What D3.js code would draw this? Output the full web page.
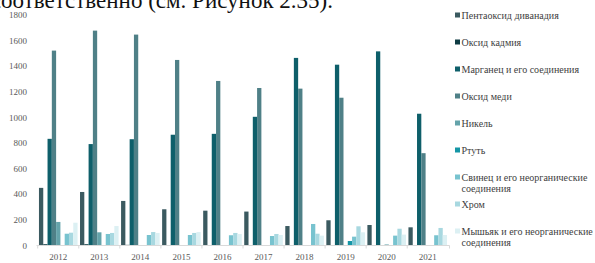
<!doctype html>
<html>
<head>
<meta charset="utf-8">
<style>
  * { margin: 0; padding: 0; }
  body { background: #fff; width: 595px; height: 263px; overflow: hidden; }
  svg text { font-family: "Liberation Serif", "DejaVu Serif", serif; }
</style>
</head>
<body>
<div id="main"></div>
<script src="https://cdnjs.cloudflare.com/ajax/libs/d3/7.8.5/d3.min.js"></script>
<script>
var years = ['2012','2013','2014','2015','2016','2017','2018','2019','2020','2021']
var seriesNames = ['Пентаоксид диванадия', 'Оксид кадмия', 'Марганец и его соединения', 'Оксид меди', 'Никель', 'Ртуть',
  'Свинец и его неорганические соединения', 'Хром', 'Мышьяк и его неорганические соединения']
var colors = ['#3b5a60', '#0e3b43', '#0e5f6a', '#4f8087', '#64a3aa', '#1496a6', '#78c3cf', '#a8d8e0', '#dcf0f3']

// one array per series, 2012..2021
var pentoxide = [450, 418, 348, 283, 272, 265, 152, 197, 160, 142]
var cadmium   = [10, 10, 5, 3, 3, 3, 3, 3, 3, 3]
var manganese = [833, 792, 830, 865, 872, 1005, 1465, 1412, 1516, 1029]
var copper    = [1522, 1678, 1647, 1449, 1285, 1230, 1225, 1154, 0, 721]
var nickel    = [184, 103, 0, 0, 0, 0, 0, 0, 8, 0]
var mercury   = [0, 0, 0, 0, 0, 0, 0, 35, 0, 0]
var lead      = [92, 90, 82, 82, 80, 74, 168, 69, 77, 80]
var chrome    = [100, 98, 105, 98, 98, 90, 92, 150, 131, 137]
var arsenic   = [178, 152, 98, 105, 90, 82, 77, 103, 85, 82]
var allSeries = [pentoxide, cadmium, manganese, copper, nickel, mercury, lead, chrome, arsenic]
var yTicks = [0, 200, 400, 600, 800, 1000, 1200, 1400, 1600, 1800]

var width = 595, height = 263
var svg = d3.select('#main').append('svg').attr('width', width).attr('height', height)

// document text cut off above the chart
svg.append('text').attr('x', 333).attr('y', 7.5)
  .attr('text-anchor', 'end')
  .style('font-size', '23px').attr('fill', '#111')
  .text('соответственно (см. Рисунок 2.35).')

var x0 = d3.scaleBand().domain(years).range([36.5, 449.5]).padding(0.06)
var x1 = d3.scaleBand().domain(d3.range(seriesNames.length)).range([0, x0.bandwidth()])
var y = d3.scaleLinear().domain([0, 1800]).range([245.5, 15])

// y labels (no axis line)
svg.selectAll('.ylab').data(yTicks).enter().append('text')
  .attr('class', 'ylab')
  .attr('x', 27).attr('y', function(d){ return y(d) })
  .attr('dy', '0.35em').attr('text-anchor', 'end')
  .style('font-size', '9px').attr('fill', '#595959')
  .text(function(d){ return d })

var groups = svg.selectAll('.year').data(years).enter().append('g')
  .attr('class', 'year')
  .attr('transform', function(d){ return 'translate(' + x0(d) + ',0)' })

groups.selectAll('rect').data(function(d, i){
    return allSeries.map(function(s, k){ return {k: k, v: s[i]} })
  }).enter().append('rect')
  .attr('x', function(d){ return x1(d.k) })
  .attr('width', x1.bandwidth())
  .attr('y', function(d){ return y(d.v) })
  .attr('height', function(d){ return y(0) - y(d.v) })
  .attr('fill', function(d){ return colors[d.k] })

// x axis
var xAxis = svg.append('g').attr('transform', 'translate(0,' + y(0) + ')')
xAxis.append('line').attr('x1', 36.5).attr('x2', 449.5).attr('stroke', '#d9d9d9').attr('stroke-width', 1)
var bounds = years.map(function(d){ return x0(d) - x0.step() * x0.paddingInner() / 2 })
bounds.push(449.5)
xAxis.selectAll('.tk').data(bounds).enter().append('line')
  .attr('x1', function(d){ return d }).attr('x2', function(d){ return d })
  .attr('y1', 0).attr('y2', 3).attr('stroke', '#d9d9d9')
xAxis.selectAll('.xlab').data(years).enter().append('text')
  .attr('x', function(d){ return x0(d) + x0.bandwidth() / 2 })
  .attr('y', 14).attr('text-anchor', 'middle')
  .style('font-size', '9px').attr('fill', '#595959')
  .text(function(d){ return d })

// legend
var legend = svg.append('g').attr('transform', 'translate(455,0)')
var items = legend.selectAll('.lg').data(seriesNames).enter().append('g')
  .attr('transform', function(d, i){ return 'translate(0,' + (15 + i * 27) + ')' })
items.append('rect').attr('x', 0).attr('y', -2.5).attr('width', 5).attr('height', 5)
  .attr('fill', function(d, i){ return colors[i] })
items.append('text').attr('x', 6.5).attr('y', 0).attr('dy', '0.35em')
  .style('font-size', '10px').attr('fill', '#404040')
  .each(function(d){
    var t = d3.select(this)
    var m = d.match(/^(.*) (соединения)$/)
    if (m && d.length > 30) {
      t.append('tspan').text(m[1])
      t.append('tspan').attr('x', 6.5).attr('dy', '1.15em').text(m[2])
    } else {
      t.text(d)
    }
  })
</script>
</body>
</html>
